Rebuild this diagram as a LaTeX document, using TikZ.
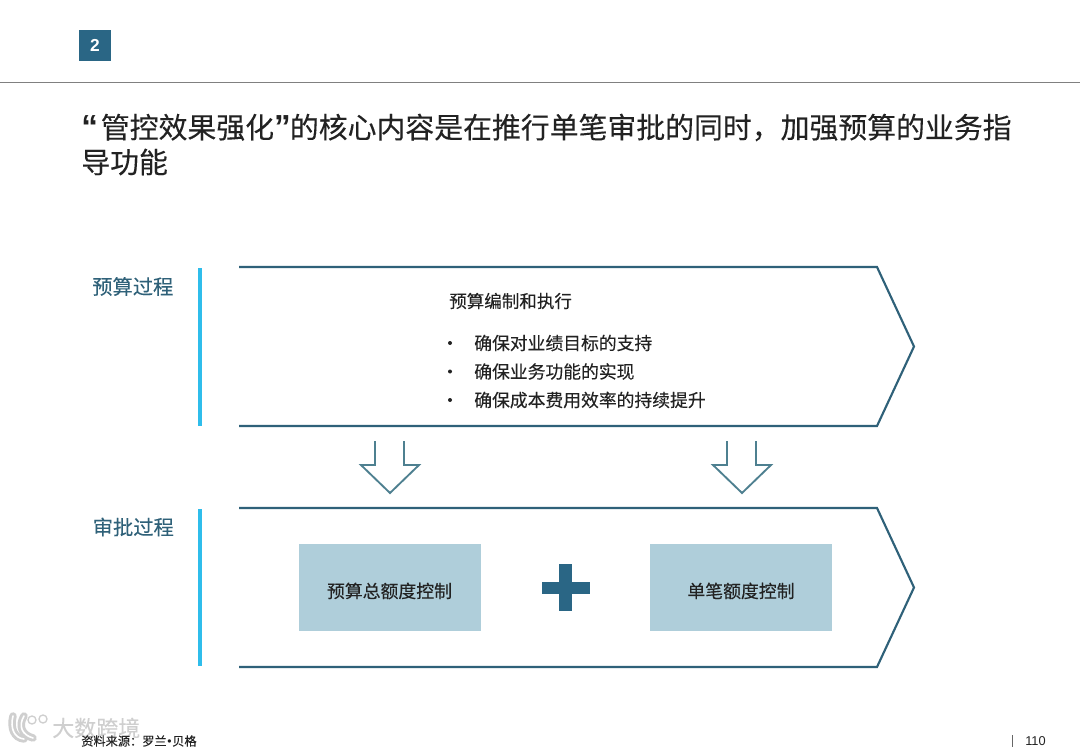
\documentclass[tikz,border=0pt]{standalone}
\usepackage{fontspec}
\setmainfont[FakeBold=0.15]{Noto Sans CJK SC}
\newfontfamily\latinf{Liberation Sans}
\newcommand{\fs}[1]{\fontsize{#1}{#1}\selectfont}
\definecolor{teal}{HTML}{2A6685}
\definecolor{chev}{HTML}{2F6179}
\definecolor{arrowc}{HTML}{4E8090}
\definecolor{barc}{HTML}{2FBDEB}
\definecolor{boxc}{HTML}{AFCEDA}
\definecolor{ink}{HTML}{222222}
\definecolor{wm}{HTML}{CFCFCF}
\tikzset{
  chevron/.style={draw=chev,line width=1.6pt,line join=miter},
  sidebar/.style={fill=barc,draw=none},
  blockarrow/.style={draw=arrowc,line width=1.4pt,line join=miter},
  sidelabel/.style={inner sep=0pt,anchor=west,text=chev,font=\fs{15.2pt}},
  bodytext/.style={inner sep=0pt,anchor=west,text=ink,font=\fs{13.35pt}},
  lightbox/.style={fill=boxc,draw=none,inner sep=0pt,text=ink,font=\fs{13.4pt}},
  plus/.style={fill=teal,draw=none},
  logoline/.style={draw=wm,double=white,line cap=round},
}
\begin{document}
\begin{tikzpicture}[x=0.75pt,y=-0.75pt]
\useasboundingbox (0,0) rectangle (1080,748);
\fill[white] (0,0) rectangle (1080,748);
% header
\node[fill=teal,minimum width=24pt,minimum height=23.5pt,inner sep=0pt,text=white,font=\latinf\bfseries\fs{13pt}] (badge) at (95,45.5) {2};
\coordinate (ruleL) at (0,82);
\coordinate (ruleR) at (1080,82);
\draw[color=black!50,line width=0.6pt] (ruleL) -- (ruleR);
% title
\node[inner sep=0pt,anchor=west,text=ink,font=\fs{21.65pt}] (title1) at (81,127.5)
  {{\latinf\bfseries\fontsize{25pt}{25pt}\selectfont “}\kern2.2pt 管控效果强化{\latinf\bfseries\fontsize{25pt}{25pt}\selectfont ”}\kern-0.6pt 的核心内容是在推行单笔审批的同时，加强预算的业务指};
\node[inner sep=0pt,anchor=west,text=ink,font=\fs{21.65pt}] (title2) at (81,162) {导功能};
% upper band
\node[sidelabel] (lab1) at (92,286.5) {预算过程};
\fill[sidebar] (197.5,268) rectangle (201.5,426);
\draw[chevron] (239,267) -- (877,267) -- (914,346.5) -- (877,426) -- (239,426);
\node[bodytext,font=\fs{13.15pt}] (head) at (449,301) {预算编制和执行};
\node[bodytext] (b1) at (474,343) {确保对业绩目标的支持};
\node[bodytext] (b2) at (474,371.5) {确保业务功能的实现};
\node[bodytext] (b3) at (474,400) {确保成本费用效率的持续提升};
\foreach \y in {343,371.5,400} \fill[ink] (450,\y) circle (2);
% arrows
\draw[blockarrow] (375,441) -- (375,465) -- (361,465) -- (390,493) -- (419,465) -- (404,465) -- (404,441);
\draw[blockarrow] (727,441) -- (727,465) -- (713,465) -- (742,493) -- (771,465) -- (756,465) -- (756,441);
% lower band
\node[sidelabel] (lab2) at (92.5,527) {审批过程};
\fill[sidebar] (197.5,509) rectangle (201.5,666);
\draw[chevron] (239,508) -- (877,508) -- (914,587.5) -- (877,667) -- (239,667);
\node[lightbox,minimum width=136.5pt,minimum height=65.5pt] (box1) at (389.5,587.5) {\raisebox{-7.7pt}[0pt][0pt]{预算总额度控制}};
\node[lightbox,minimum width=136.5pt,minimum height=65.5pt] (box2) at (741,587.5) {\raisebox{-7.7pt}[0pt][0pt]{单笔额度控制}};
\fill[plus] (559,564) rectangle (572,611);
\fill[plus] (542,582) rectangle (590,594);
% watermark
\node[inner sep=0pt,anchor=west,text=wm,font=\fs{16.5pt}] (wmtext) at (52,728) {大数跨境};
\draw[logoline,line width=2.2pt,double distance=1.2pt] (13,716) .. controls (10,728) and (14,738) .. (24,739);
\draw[logoline,line width=2.2pt,double distance=1.2pt] (24,716) .. controls (18,726) and (22,735) .. (33,738);
\draw[wm,line width=1pt] (32,720) circle (4);
\draw[wm,line width=1pt] (43,719) circle (4);
% footer
\node[inner sep=0pt,anchor=west,text=ink,font=\fs{9.15pt}] (src) at (81,741) {资料来源：罗兰\kern0.5pt{\latinf•}\kern0.5pt贝格};
\coordinate (sepT) at (1012,735);
\coordinate (sepB) at (1012,747);
\draw[color=black!60,line width=0.5pt] (sepT) -- (sepB);
\node[inner sep=0pt,anchor=west,text=ink,font=\latinf\fs{9.6pt}] (page) at (1025,741) {110};
\end{tikzpicture}
\end{document}
